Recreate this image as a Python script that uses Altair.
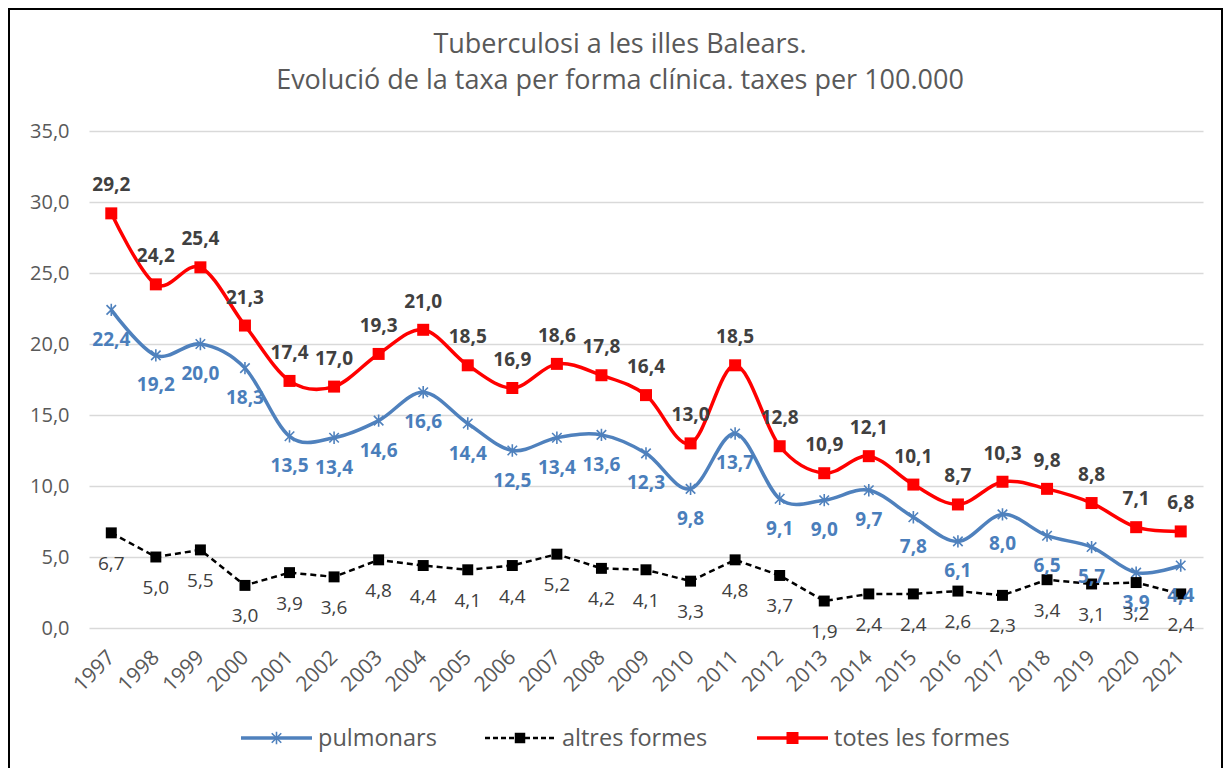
import altair as alt
import pandas as pd

years = [str(y) for y in range(1997, 2022)]
pulmonars = [22.4, 19.2, 20.0, 18.3, 13.5, 13.4, 14.6, 16.6, 14.4, 12.5, 13.4, 13.6, 12.3,
             9.8, 13.7, 9.1, 9.0, 9.7, 7.8, 6.1, 8.0, 6.5, 5.7, 3.9, 4.4]
altres = [6.7, 5.0, 5.5, 3.0, 3.9, 3.6, 4.8, 4.4, 4.1, 4.4, 5.2, 4.2, 4.1,
          3.3, 4.8, 3.7, 1.9, 2.4, 2.4, 2.6, 2.3, 3.4, 3.1, 3.2, 2.4]
totes = [29.2, 24.2, 25.4, 21.3, 17.4, 17.0, 19.3, 21.0, 18.5, 16.9, 18.6, 17.8, 16.4,
         13.0, 18.5, 12.8, 10.9, 12.1, 10.1, 8.7, 10.3, 9.8, 8.8, 7.1, 6.8]
series_names = ["pulmonars", "altres formes", "totes les formes"]
title_lines = ["Tuberculosi a les illes Balears.",
               "Evolució de la taxa per forma clínica. taxes per 100.000"]
y_ticks = [0, 5, 10, 15, 20, 25, 30, 35]

FONT = "Open Sans"
GREY = "#595959"
BLUE = "#4f81bd"
RED = "#ff0000"
BLACK = "#000000"
W, H = 1114, 497
STAR = "M-1,-1L1,1M-1,1L1,-1M0,-1.3L0,1.3"
LABEL_EXPR = "replace(format(datum.value, '.1f'), '.', ',')"


def frame(vals):
    return pd.DataFrame({"year": years, "value": vals})


x_enc = alt.X("year:O", scale=alt.Scale(padding=0.5),
              axis=alt.Axis(title=None, labelAngle=-45, labelAlign="right",
                            labelBaseline="middle", labelFontSize=21, labelColor=GREY,
                            labelFont=FONT, labelPadding=14, offset=12, ticks=False,
                            domain=False, grid=False))
y_enc = alt.Y("value:Q", scale=alt.Scale(domain=[0, 35], nice=False),
              axis=alt.Axis(title=None, values=y_ticks, labelExpr=LABEL_EXPR,
                            labelFontSize=20, labelColor=GREY, labelFont=FONT,
                            labelPadding=20, ticks=False, domain=False, grid=True,
                            gridColor="#d9d9d9", gridWidth=1.5))


def series_layers(vals, color, dash, shape, size, filled, interp, stroke_w, label_color,
                  label_weight, label_dy):
    base = alt.Chart(frame(vals)).encode(x=x_enc, y=y_enc)
    line_kw = dict(color=color, strokeWidth=stroke_w, interpolate=interp)
    if dash:
        line_kw["strokeDash"] = dash
    line = base.mark_line(**line_kw)
    if filled:
        pts = base.mark_point(shape=shape, size=size, filled=True, color=color, opacity=1)
    else:
        pts = base.mark_point(shape=shape, size=size, filled=False, color=color,
                              strokeWidth=1.6, opacity=1)
    labels = base.transform_calculate(lab=LABEL_EXPR).mark_text(
        font=FONT, fontSize=19, fontWeight=label_weight, color=label_color,
        dy=label_dy, baseline="middle", align="center").encode(text="lab:N")
    return line, pts, labels


p_line, p_pts, p_lab = series_layers(pulmonars, BLUE, None, STAR, 90, False, "cardinal", 3.5,
                                     "#4a7ebb", "bold", 30)
a_line, a_pts, a_lab = series_layers(altres, BLACK, [6, 4], "square", 120, True, "linear", 2.5,
                                     "#404040", "normal", 31)
t_line, t_pts, t_lab = series_layers(totes, RED, None, "square", 144, True, "cardinal", 3.5,
                                     "#404040", "bold", -28)

one = pd.DataFrame({"k": [0]})

# title (decoration, drawn as text so it sits where the reference puts it)
title_layers = [
    alt.Chart(one).mark_text(font=FONT, fontSize=27, color=GREY, align="center",
                             baseline="middle").encode(
        x=alt.value(531), y=alt.value(yy), text=alt.value(t))
    for t, yy in zip(title_lines, [-86, -50])
]

# legend (decoration)
LEG_Y = 607
leg_specs = [
    (series_names[0], BLUE, None, STAR, 90, False, 152, 223, 229, 3.5),
    (series_names[1], BLACK, [5, 3], "square", 110, True, 396, 466, 473, 2.5),
    (series_names[2], RED, None, "square", 144, True, 668, 739, 745, 3.5),
]
legend_layers = []
for name, col, dash, shape, size, filled, x0, x1, xt, sw in leg_specs:
    rk = dict(color=col, strokeWidth=sw)
    if dash:
        rk["strokeDash"] = dash
    legend_layers.append(alt.Chart(one).mark_rule(**rk).encode(
        x=alt.value(x0), x2=alt.value(x1), y=alt.value(LEG_Y)))
    if filled:
        pk = dict(shape=shape, size=size, filled=True, color=col, opacity=1)
    else:
        pk = dict(shape=shape, size=size, filled=False, color=col, strokeWidth=1.6, opacity=1)
    legend_layers.append(alt.Chart(one).mark_point(**pk).encode(
        x=alt.value((x0 + x1) / 2), y=alt.value(LEG_Y)))
    legend_layers.append(alt.Chart(one).mark_text(
        font=FONT, fontSize=23.5, color=GREY, align="left", baseline="middle").encode(
        x=alt.value(xt), y=alt.value(LEG_Y + 1), text=alt.value(name)))

border = alt.Chart(one).mark_rect(fillOpacity=0, stroke="black", strokeWidth=2).encode(
    x=alt.value(-80), x2=alt.value(1133), y=alt.value(-122), y2=alt.value(700))

chart = alt.layer(
    p_line, p_pts, a_line, a_pts, t_line, t_pts, p_lab, a_lab, t_lab,
    *title_layers, *legend_layers, border
).properties(
    width=W, height=H,
    autosize=alt.AutoSizeParams(type="none"),
    padding={"left": 81, "top": 123, "right": 20, "bottom": 140},
).configure_view(stroke=None)

chart.save("out.html", embed_options={"renderer": "svg", "actions": False})
